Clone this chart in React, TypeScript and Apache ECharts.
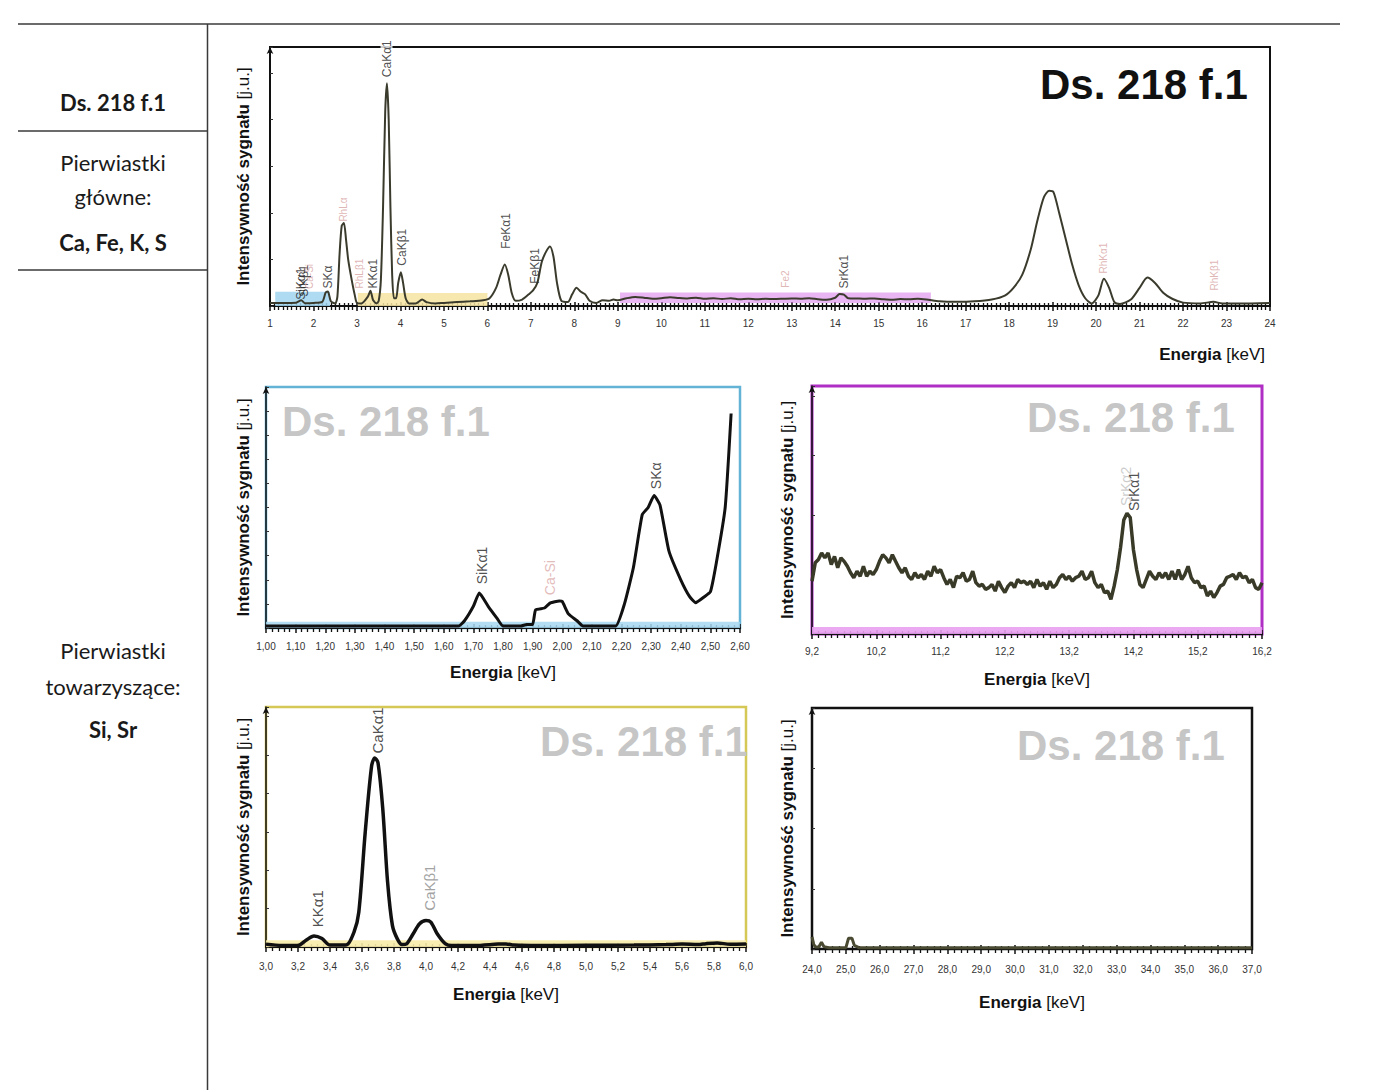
import { useEffect, useRef } from 'react';
import * as echarts from 'echarts';

const FONT = "'Liberation Sans', Arial, sans-serif";
const TABLE_FONT = "Lato, 'Open Sans', sans-serif";

// ---------- Main spectrum (1–24 keV) ----------
const mainEnergy = [
  1.0, 1.3, 1.6, 1.72, 1.8, 2.0, 2.2, 2.28, 2.33, 2.4, 2.5, 2.55, 2.6, 2.65, 2.7, 2.75, 2.8, 2.88, 2.95, 3.0,
  3.1, 3.25, 3.31, 3.37, 3.45, 3.5, 3.55, 3.6, 3.65, 3.69, 3.73, 3.77, 3.81, 3.85, 3.9, 3.95, 4.01, 4.06, 4.12, 4.2,
  4.35, 4.5, 4.6, 4.8, 5.0, 5.3, 5.6, 5.9, 6.05, 6.2, 6.3, 6.4, 6.48, 6.56, 6.65, 6.8, 6.95, 7.05, 7.15, 7.25,
  7.35, 7.44, 7.52, 7.6, 7.7, 7.85, 7.95, 8.05, 8.15, 8.25, 8.35, 8.5, 8.65, 8.8, 8.9, 9.0,
  9.2, 9.4, 9.6, 9.8, 10.0, 10.2, 10.4, 10.6, 10.8, 11.0, 11.2, 11.4, 11.6, 11.8, 12.0, 12.2, 12.4, 12.6, 12.8, 13.0,
  13.2, 13.4, 13.6, 13.8, 14.0, 14.1, 14.2, 14.3, 14.5, 14.7, 14.9, 15.1, 15.3, 15.5, 15.7, 15.9, 16.1, 16.4, 16.8, 17.2,
  17.6, 17.9, 18.1, 18.3, 18.5, 18.65, 18.8, 18.92, 19.02, 19.15, 19.3, 19.45, 19.6, 19.75, 19.9, 20.05, 20.18, 20.3, 20.42, 20.55,
  20.8, 21.0, 21.18, 21.35, 21.55, 21.75, 22.0, 22.4, 22.7, 22.9, 23.3, 24.0,
];
const mainIntensity = [
  1.2, 1.2, 1.3, 2.2, 1.1, 1.2, 1.6, 5.2, 5.6, 1.8, 1.0, 3.6, 20, 31, 32, 25.4, 17.7, 10, 4.2, 1.2,
  1.0, 3.6, 5.9, 2.3, 1.0, 2, 10, 38, 75, 86, 72, 38, 12, 3, 3, 9, 13, 9, 3, 1,
  1, 2.5, 1.5, 1, 1.2, 1.5, 1.8, 2.2, 3, 7, 12, 16, 12, 5, 2, 2.5, 4.5, 6, 9, 17,
  21, 23, 19, 9, 2, 1.5, 4.5, 7, 5.5, 4.5, 2, 1.2, 2.2, 2, 2.5, 2.2,
  3.0, 3.5, 3.2, 2.8, 3.0, 3.4, 3.1, 2.9, 3.2, 2.8, 3.0, 2.7, 3.0, 2.6, 2.8, 2.6, 2.8, 2.7, 2.8, 2.9,
  2.8, 3.0, 2.6, 2.4, 3.2, 4.6, 4.4, 3.0, 2.9, 2.8, 2.9, 2.6, 2.4, 2.7, 2.6, 2.8, 2.5, 1.8, 1.6, 1.8,
  2.5, 4, 7, 12, 22, 33, 42, 44.5, 44, 36, 26, 16, 8, 3, 1, 4, 10.5, 7, 1.5, 0.8,
  2.5, 7, 11, 9, 5, 2.8, 1.3, 1.0, 1.6, 1.0, 1.0, 1.2,
];
const mainTicks = [1, 24];
const mainLabelText = ['SiKα1', 'SiKβ1', 'Ca-Si', 'SKα', 'RhLα', 'RhLβ1', 'KKα1', 'CaKα1', 'CaKβ1', 'FeKα1', 'FeKβ1', 'Fe2', 'SrKα1', 'RhKα1', 'RhKβ1'];
const mainLabelEnergy = [1.71, 1.79, 1.9, 2.33, 2.68, 3.05, 3.36, 3.68, 4.03, 6.42, 7.09, 12.85, 14.2, 20.18, 22.73];
const mainLabelHeight = [1.8, 3.0, 6.0, 6.2, 32, 6.2, 6.2, 87, 15, 21.5, 8, 6.5, 6.2, 12, 5.4];
const mainLabelPink = [false, false, true, false, true, true, false, false, false, false, false, true, false, true, true];

// ---------- Si / S zoom (1.00–2.60 keV) ----------
const blueEnergy = [1.0, 1.65, 1.67, 1.7, 1.72, 1.75, 1.78, 1.8, 1.86, 1.88, 1.9, 1.91, 1.94, 1.96, 1.99, 2.0, 2.02, 2.05, 2.07, 2.1,
  2.18, 2.21, 2.24, 2.27, 2.29, 2.31, 2.33, 2.36, 2.4, 2.43, 2.45, 2.48, 2.5, 2.52, 2.55, 2.57];
const blueIntensity = [0.8, 0.8, 3, 9, 14.5, 9, 4, 0.8, 0.8, 1.5, 1.5, 7.5, 8.3, 10.4, 11.2, 11, 6, 3, 0.8, 0.8,
  0.8, 10, 25, 47, 50, 55, 51, 32, 20, 13, 10.5, 13, 15, 27, 50, 89];
const blueLabelText = ['SiKα1', 'Ca-Si', 'SKα'];
const blueLabelEnergy = [1.73, 1.96, 2.315];
const blueLabelHeight = [17.5, 13, 57];
const blueLabelPink = [false, true, false];

// ---------- Sr zoom (9.2–16.2 keV, step 0.05) ----------
const srStart = 9.2;
const srStep = 0.05;
const srIntensity = [
  21.3, 28.7, 30, 32.7, 30.7, 32.7, 28, 31.3, 26.7, 30.7, 29.3, 27.3, 24.7, 22.7, 25.3, 23.3,
  27.3, 23.3, 25.3, 24, 26, 29.3, 32, 30.7, 28.7, 32, 29.3, 26.7, 24.7, 26.7, 23.3, 22, 24.7, 22.7, 24, 22,
  25.3, 23.3, 27.3, 24.7, 26, 22.7, 20, 22, 18.7, 23.3, 22.7, 24.7, 21.3, 22, 25.3, 20.7, 19.3, 20, 18, 18.7,
  20, 17.3, 21.3, 18.7, 16.7, 19.3, 20.7, 18.7, 22, 20.7, 21.3, 20, 21.3, 18.7, 22, 19.3, 20.7, 18, 21.3, 18.7,
  20, 22.7, 24, 22, 23.3, 21.3, 22.7, 23.3, 25.3, 22, 22.7, 25.3, 20.7, 18.7, 20, 16.7, 17.3, 14, 19.3, 26,
  35, 46, 48.7, 47, 34, 26, 20, 18.7, 22, 25.3, 23.3, 22, 24.7, 22.7, 24.7, 22, 25.3, 22, 26, 22,
  24, 27.3, 22.7, 20.7, 21.3, 18.7, 19.3, 15.3, 17.3, 14.7, 16.7, 19.3, 20, 22.7, 23.3, 24, 22, 24.7, 22.7, 23.3,
  20.7, 22, 18.7, 18, 20.7,
];
const srLabelText = ['SrKα2', 'SrKα1'];
const srLabelEnergy = [14.08, 14.21];
const srLabelHeight = [51, 49];
const srLabelGray = [true, false];

// ---------- Ca / K zoom (3.0–6.0 keV) ----------
const caEnergy = [3.0, 3.1, 3.2, 3.25, 3.3, 3.35, 3.4, 3.5, 3.55, 3.58, 3.62, 3.66, 3.68, 3.7, 3.73, 3.76, 3.79, 3.82, 3.85, 3.88,
  3.92, 3.96, 4.0, 4.03, 4.07, 4.12, 4.16, 4.3, 4.45, 4.5, 4.55, 4.7, 5.0, 5.3, 5.5, 5.6, 5.7, 5.75, 5.82, 5.9, 6.0];
const caIntensity = [1.2, 0.6, 0.6, 2.8, 4.6, 3.5, 0.8, 0.8, 6.2, 14.5, 47.7, 75.4, 78.8, 76.8, 57.4, 27, 9, 3.5, 1, 1.4,
  5.5, 9.7, 11, 10.4, 5.5, 1.4, 0.6, 0.6, 1.2, 1.3, 0.8, 0.6, 0.7, 0.8, 1.0, 1.2, 1.0, 1.4, 1.7, 1.1, 1.2];
const caLabelText = ['KKα1', 'CaKα1', 'CaKβ1'];
const caLabelEnergy = [3.32, 3.695, 4.02];
const caLabelHeight = [7.6, 80, 14.5];
const caLabelGray = [false, false, true];

// ---------- High energy zoom (24–37 keV) ----------
const hiEnergy = [24.0, 24.05, 24.1, 24.2, 24.28, 24.35, 24.5, 25.0, 25.08, 25.18, 25.25, 25.4, 37.0];
const hiIntensity = [5, 2, 0.8, 0.8, 2.8, 1, 0.5, 0.5, 4.5, 4.5, 1.5, 0.5, 0.5];

const SAMPLE = 'Ds. 218 f.1';

const yName = '{b|Intensywność sygnału} {r|[j.u.]}';
const xName = '{b|Energia} {r|[keV]}';
const nameRich = {
  b: { fontFamily: FONT, fontWeight: 'bold' as const, fontSize: 17, color: '#111' },
  r: { fontFamily: FONT, fontSize: 17, color: '#111' },
};

function buildOption() {
  const grids = [
    { left: 270, top: 47, width: 1000, height: 259, show: true, borderColor: '#111', borderWidth: 2 },
    { left: 266, top: 387, width: 474, height: 241, show: true, borderColor: '#62b3d6', borderWidth: 2.5 },
    { left: 812, top: 386, width: 450, height: 248, show: true, borderColor: '#b02ec4', borderWidth: 3 },
    { left: 266, top: 707, width: 480, height: 240, show: true, borderColor: '#d6c856', borderWidth: 2.5 },
    { left: 812, top: 708, width: 440, height: 241, show: true, borderColor: '#111', borderWidth: 2.5 },
  ];

  const xAx = (gridIndex: number, min: number, max: number, interval: number, minorSplit: number,
    fmt: (v: number) => string, margin: number, name?: string, nameGap?: number) => ({
    type: 'value', gridIndex, min, max, interval,
    axisLine: { show: true, onZero: false, lineStyle: { color: '#111', width: 2 } },
    axisTick: { show: true, length: 5, lineStyle: { color: '#111', width: 1.5 } },
    minorTick: { show: true, splitNumber: minorSplit, length: 4, lineStyle: { color: '#111', width: 1.3 } },
    axisLabel: { formatter: fmt, fontSize: 10, color: '#333', margin, fontFamily: FONT, showMaxLabel: true, showMinLabel: true },
    splitLine: { show: false },
    minorSplitLine: { show: false },
    name: name ?? '',
    nameLocation: 'middle',
    nameGap: nameGap ?? 0,
    nameTextStyle: { fontFamily: FONT, fontSize: 17, color: '#111', rich: nameRich },
  });

  // companion axis drawing the inner half of the dense tick band
  const xIn = (gridIndex: number, min: number, max: number, interval: number, minorSplit: number) => ({
    type: 'value', gridIndex, min, max, interval, position: 'bottom',
    axisLine: { show: false, onZero: false },
    axisTick: { show: true, inside: true, length: 4, lineStyle: { color: '#111', width: 1.5 } },
    minorTick: { show: true, splitNumber: minorSplit, length: 3, lineStyle: { color: '#111', width: 1.3 } },
    axisLabel: { show: false },
    splitLine: { show: false },
  });

  const yAx = (gridIndex: number, interval: number, nameGap: number) => ({
    type: 'value', gridIndex, min: 0, max: 100, interval,
    axisLine: { show: true, onZero: false, lineStyle: { color: '#111', width: 1.5 }, symbol: ['none', 'arrow'], symbolSize: [5, 7] },
    axisTick: { show: true, inside: true, length: 3, lineStyle: { color: '#333' } },
    axisLabel: { show: false },
    splitLine: { show: false },
    name: yName,
    nameLocation: 'middle',
    nameGap,
    nameRotate: 90,
    nameTextStyle: { fontFamily: FONT, fontSize: 17, color: '#111', rich: nameRich },
  });

  const comma = (d: number) => (v: number) => v.toFixed(d).replace('.', ',');

  const xAxis = [
    xAx(0, mainTicks[0], mainTicks[1], 1, 10, (v) => String(Math.round(v)), 12),
    xAx(1, 100, 260, 10, 5, (v) => (v / 100).toFixed(2).replace('.', ','), 13, xName, 36),
    xAx(2, 0, 70, 10, 10, (v) => (srStart + v / 10).toFixed(1).replace('.', ','), 12, xName, 37),
    xAx(3, 30, 60, 2, 5, (v) => (v / 10).toFixed(1).replace('.', ','), 14, xName, 39),
    xAx(4, 24, 37, 1, 5, comma(1), 15, xName, 45),
    xIn(0, mainTicks[0], mainTicks[1], 1, 10),
    xIn(1, 100, 260, 10, 5),
    xIn(2, 0, 70, 10, 10),
    xIn(3, 30, 60, 2, 5),
    xIn(4, 24, 37, 1, 5),
  ];
  const yAxis = [yAx(0, 18, 18), yAx(1, 10, 14), yAx(2, 24, 16), yAx(3, 16, 14), yAx(4, 25, 16)];

  const labelSeries = (idx: number, xs: number[], ys: number[], names: string[], colors: string[], sizes: number[],
    xf: (v: number) => number, bg?: boolean[]) => ({
    type: 'scatter', xAxisIndex: idx, yAxisIndex: idx, symbolSize: 1, silent: true, z: 10, clip: false,
    itemStyle: { color: 'rgba(0,0,0,0)' },
    label: {
      show: true, formatter: '{b}', position: 'top', distance: 1, rotate: 90, align: 'left', verticalAlign: 'middle',
      fontFamily: FONT,
    },
    data: names.map((n, i) => ({
      name: n,
      value: [xf(xs[i]), ys[i]],
      label: {
        color: colors[i], fontSize: sizes[i],
        backgroundColor: bg && bg[i] ? '#fff' : 'transparent', padding: bg && bg[i] ? [0, 2, 0, 2] : 0,
      },
    })),
  });

  const id = (v: number) => v;
  const bandSeries = (idx: number, areas: any[], z: number) => ({
    type: 'line', xAxisIndex: idx, yAxisIndex: idx, data: [], z, silent: true,
    markArea: { silent: true, data: areas },
  });

  const series: any[] = [
    bandSeries(0, [
      [{ xAxis: 1.12, yAxis: 0, itemStyle: { color: 'rgba(160,212,240,0.85)' } }, { xAxis: 2.38, yAxis: 5.5 }],
      [{ xAxis: 3.02, yAxis: 0, itemStyle: { color: 'rgba(245,228,160,0.85)' } }, { xAxis: 6.0, yAxis: 5.0 }],
    ], 1),
    {
      type: 'line', xAxisIndex: 0, yAxisIndex: 0, z: 3, smooth: 0.25, symbol: 'none',
      lineStyle: { color: '#3b3b2d', width: 2 },
      data: mainEnergy.map((e, i) => [e, mainIntensity[i]]),
    },
    bandSeries(0, [
      [{ xAxis: 9.05, yAxis: 1.2, itemStyle: { color: 'rgba(215,120,232,0.55)' } }, { xAxis: 16.2, yAxis: 5.2 }],
    ], 4),
    labelSeries(0, mainLabelEnergy, mainLabelHeight, mainLabelText,
      mainLabelPink.map((p) => (p ? '#d7a3a3' : '#222')),
      mainLabelPink.map((p) => (p ? 10 : 12)), id,
      mainLabelText.map((t) => t === 'CaKα1')),

    bandSeries(1, [
      [{ xAxis: 100, yAxis: 0, itemStyle: { color: 'rgba(165,215,240,0.85)' } }, { xAxis: 260, yAxis: 2.6 }],
    ], 1),
    {
      type: 'line', xAxisIndex: 1, yAxisIndex: 1, z: 3, smooth: 0.15, symbol: 'none',
      lineStyle: { color: '#111', width: 3 },
      data: blueEnergy.map((e, i) => [e * 100, blueIntensity[i]]),
    },
    labelSeries(1, blueLabelEnergy, blueLabelHeight, blueLabelText,
      blueLabelPink.map((p) => (p ? '#dcaaaa' : '#222')), [14, 14, 14], (v) => v * 100),

    bandSeries(2, [
      [{ xAxis: 0, yAxis: 0, itemStyle: { color: 'rgba(232,160,240,0.9)' } }, { xAxis: 70, yAxis: 2.8 }],
    ], 1),
    {
      type: 'line', xAxisIndex: 2, yAxisIndex: 2, z: 3, symbol: 'none',
      lineStyle: { color: '#3a3a28', width: 3.5 },
      data: srIntensity.map((v, i) => [i * srStep * 10, v]),
    },
    labelSeries(2, srLabelEnergy, srLabelHeight, srLabelText,
      srLabelGray.map((g) => (g ? '#c0c0c0' : '#222')), [14, 14], (v) => (v - srStart) * 10),

    bandSeries(3, [
      [{ xAxis: 30, yAxis: 0, itemStyle: { color: 'rgba(248,236,170,0.9)' } }, { xAxis: 60, yAxis: 2.8 }],
    ], 1),
    {
      type: 'line', xAxisIndex: 3, yAxisIndex: 3, z: 3, smooth: 0.3, symbol: 'none',
      lineStyle: { color: '#111', width: 3.5 },
      data: caEnergy.map((e, i) => [e * 10, caIntensity[i]]),
    },
    labelSeries(3, caLabelEnergy, caLabelHeight, caLabelText,
      caLabelGray.map((g) => (g ? '#8a8a8a' : '#222')), [15, 15, 15], (v) => v * 10),

    {
      type: 'line', xAxisIndex: 4, yAxisIndex: 4, z: 3, symbol: 'none',
      lineStyle: { color: '#4a4a32', width: 3 },
      data: hiEnergy.map((e, i) => [e, hiIntensity[i]]),
    },
  ];

  const line = (x1: number, y1: number, x2: number, y2: number) => ({
    type: 'line', silent: true, shape: { x1, y1, x2, y2 }, style: { stroke: '#3a3a3a', lineWidth: 1.5 },
  });
  const text = (x: number, y: number, t: string, font: string, fill: string, align = 'center', rich?: any) => ({
    type: 'text', silent: true, x, y, z: 5,
    style: {
      text: t, font, fill, align, textAlign: align, verticalAlign: 'middle', textVerticalAlign: 'middle',
      ...(rich ? { rich } : {}),
    },
  });

  const titleFont = `bold 42px ${FONT}`;
  const graphic = [
    line(18, 24, 1340, 24),
    line(207.5, 24, 207.5, 1090),
    line(18, 131, 207.5, 131),
    line(18, 270, 207.5, 270),
    text(113, 102, SAMPLE, `bold 22px ${TABLE_FONT}`, '#1a1a1a'),
    text(113, 162, 'Pierwiastki', `22px ${TABLE_FONT}`, '#1a1a1a'),
    text(113, 196, 'główne:', `22px ${TABLE_FONT}`, '#1a1a1a'),
    text(113, 242, 'Ca, Fe, K, S', `bold 22px ${TABLE_FONT}`, '#1a1a1a'),
    text(113, 650, 'Pierwiastki', `22px ${TABLE_FONT}`, '#1a1a1a'),
    text(113, 686, 'towarzyszące:', `22px ${TABLE_FONT}`, '#1a1a1a'),
    text(113, 729, 'Si, Sr', `bold 22px ${TABLE_FONT}`, '#1a1a1a'),
    text(1265, 354, xName, `17px ${FONT}`, '#111', 'right', nameRich),
    text(1040, 84, SAMPLE, titleFont, '#111', 'left'),
    text(282, 421, SAMPLE, titleFont, '#c6c6c6', 'left'),
    text(1027, 417, SAMPLE, titleFont, '#c6c6c6', 'left'),
    text(540, 741, SAMPLE, titleFont, '#c6c6c6', 'left'),
    text(1017, 745, SAMPLE, titleFont, '#c6c6c6', 'left'),
  ];

  return {
    animation: false,
    backgroundColor: '#ffffff',
    textStyle: { fontFamily: FONT },
    grid: grids,
    xAxis,
    yAxis,
    series,
    graphic,
  };
}

export default function App() {
  const ref = useRef<HTMLDivElement>(null);
  useEffect(() => {
    if (!ref.current) return;
    const chart = echarts.init(ref.current, null, { renderer: 'svg' });
    chart.setOption(buildOption() as any);
    return () => chart.dispose();
  }, []);
  return (
    <div
      ref={ref}
      style={{ position: 'absolute', left: 0, top: 0, width: 1400, height: 1090, background: '#fff' }}
    />
  );
}
